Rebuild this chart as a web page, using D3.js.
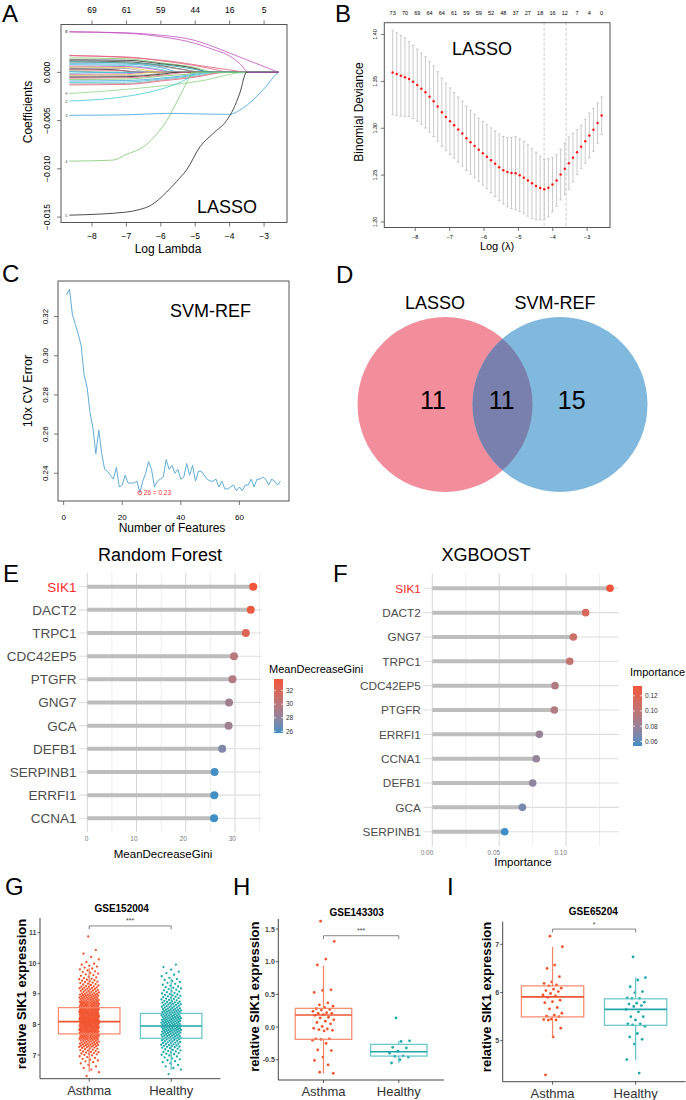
<!DOCTYPE html>
<html>
<head>
<meta charset="utf-8">
<script src="https://cdn.jsdelivr.net/npm/d3@7/dist/d3.min.js"></script>
<style>
html,body{margin:0;padding:0;background:#fff;}
svg{display:block;}
</style>
</head>
<body>
<svg id="fig" width="686" height="1100"></svg>
<script>
// ======================= DATA =======================
// ---- A: LASSO coefficient paths ([log lambda, coefficient]) ----
const lassoLambdaRange = [-8.657, -2.577];
const lassoTicks = [-8, -7, -6, -5, -4, -3];
const lassoTopLabels = ["69", "61", "59", "44", "16", "5"];
const coefTicks = [0, -0.005, -0.010, -0.015];
const coefTickLabels = ["0.000", "\u22120.005", "\u22120.010", "\u22120.015"];
const coefPaths = [
  [[-8.657,0.00172],[-7,0.0016],[-6,0.0012],[-5,0.0007],[-4.3,0.0002],[-4,0]],
  [[-8.657,0.0015],[-7,0.0014],[-6,0.001],[-5,0.0005],[-4.4,0]],
  [[-8.657,0.0013],[-7,0.00125],[-6,0.0009],[-5,0.0004],[-4.6,0]],
  [[-8.657,0.00118],[-7,0.0011],[-6,0.0007],[-5.2,0.0002],[-4.9,0]],
  [[-8.657,0.00105],[-7,0.001],[-6,0.0006],[-5,0.0001],[-4.8,0]],
  [[-8.657,0.0009],[-7,0.00085],[-6,0.0005],[-5.4,0]],
  [[-8.657,0.0008],[-7,0.0007],[-6,0.0003],[-5.6,0]],
  [[-8.657,0.00065],[-7,0.0006],[-6,0.0002],[-5.7,0]],
  [[-8.657,0.00055],[-7,0.0005],[-6.2,0.0001],[-5.9,0]],
  [[-8.657,0.00045],[-7,0.0004],[-6.3,0]],
  [[-8.657,0.00035],[-7.5,0.0003],[-6.5,0]],
  [[-8.657,0.00025],[-7.2,0.0002],[-6.6,0]],
  [[-8.657,0.00015],[-7,0]],
  [[-8.657,0.00008],[-7.5,0]],
  [[-8.657,-0.0001],[-7.3,0]],
  [[-8.657,-0.0002],[-7,-0.00015],[-6.5,0]],
  [[-8.657,-0.0003],[-7,-0.00025],[-6.2,0]],
  [[-8.657,-0.0004],[-7,-0.00035],[-6,-0.0001],[-5.8,0]],
  [[-8.657,-0.0005],[-7,-0.00045],[-6,-0.0002],[-5.5,0]],
  [[-8.657,-0.0006],[-7,-0.00055],[-6,-0.0003],[-5.2,0]],
  [[-8.657,-0.00075],[-7,-0.0007],[-6,-0.0004],[-5,-0.0001],[-4.8,0]],
  [[-8.657,-0.0009],[-7,-0.00085],[-6,-0.0006],[-5,-0.0002],[-4.6,0]],
  [[-8.657,-0.00105],[-7,-0.001],[-6,-0.0007],[-5,-0.0003],[-4.4,0]],
  [[-8.657,-0.0012],[-7,-0.00115],[-6,-0.0008],[-5,-0.0004],[-4.2,0]],
  [[-8.657,-0.0013],[-7,-0.00125],[-6,-0.0009],[-5,-0.0005],[-4.1,0]],
  [[-8.657,0.0011],[-6,0.0008],[-5,0.0003],[-4.5,0]],
  [[-8.657,-0.0022],[-6.8,-0.0017],[-4.86,-0.0009],[-3.5,0]],
  [[-8.657,0.00176],[-5.8,0.0012],[-4.86,0.0007],[-3.9,0.0002],[-3.5,0]],
  [[-8.657,-0.00297],[-7.47,-0.0027],[-6.6,-0.00225],[-5.83,-0.00156],[-5.25,-0.0007],[-4.95,0]],
  [[-8.657,-0.00445],[-7,-0.0044],[-5.8,-0.00425],[-5,-0.0043],[-4,-0.00435],[-3.7,-0.0039],[-3.3,-0.0028],[-2.93,-0.0014],[-2.65,-0.0002],[-2.577,0]],
  [[-8.657,-0.0092],[-7.4,-0.0091],[-7.0,-0.0085],[-6.5,-0.0077],[-6.12,-0.0064],[-5.83,-0.005],[-5.54,-0.0031],[-5.34,-0.0017],[-5.2,-0.0007],[-5.1,0]],
  [[-8.657,-0.0148],[-7,-0.01448],[-6.6,-0.0142],[-6.3,-0.0138],[-5.83,-0.0124],[-5.54,-0.0113],[-5.25,-0.0101],[-4.86,-0.0077],[-4.47,-0.0063],[-4.09,-0.005],[-3.89,-0.0038],[-3.7,-0.0021],[-3.51,0]],
  [[-8.657,0.0042],[-7,0.0041],[-6,0.00385],[-5,0.0033],[-4.5,0.0027],[-4,0.002],[-3.5,0.0013],[-3,0.0006],[-2.577,0]],
  [[-8.657,0.0042],[-7,0.00405],[-6,0.0037],[-5,0.003],[-4.5,0.0024],[-4,0.0017],[-3.7,0.0009],[-3.45,0]]
];
const coefColors = [
  "#e0607a","#7cc96e","#222222","#444444","#9e9e9e","#3d9fe0","#3fc9d6","#c24fc0","#e8c23a",
  "#9e9e9e","#222222","#e0607a","#7cc96e","#3d9fe0","#3fc9d6","#c24fc0","#e8c23a","#9e9e9e",
  "#222222","#e0607a","#7cc96e","#3d9fe0","#3fc9d6","#9e9e9e","#e0607a","#2fa89a",
  "#8fd384","#e0607a","#3fc9d6","#3d9fe0","#7cc96e","#222222","#c24fc0","#c24fc0"
];

// ---- B: cross-validated binomial deviance ----
const cvLambdaRange = [-8.657, -2.577];
const cvMean = [1.3595,1.3578,1.356,1.3543,1.3525,1.3495,1.346,1.3422,1.3383,1.3335,1.3287,1.3232,1.317,1.312,1.3075,1.3031,1.2986,1.2943,1.2892,1.2851,1.2811,1.2771,1.2733,1.2696,1.2659,1.2622,1.2584,1.2552,1.2532,1.2522,1.252,1.2498,1.2473,1.2443,1.2412,1.2385,1.2362,1.2348,1.2365,1.24,1.2442,1.2506,1.2568,1.2627,1.2686,1.2745,1.2802,1.2861,1.2923,1.2983,1.3055,1.3135];
const cvSE = [0.045,0.044,0.043,0.042,0.040,0.039,0.0385,0.038,0.038,0.0378,0.0375,0.037,0.0365,0.036,0.0355,0.035,0.0348,0.0345,0.0343,0.034,0.0338,0.0336,0.034,0.0342,0.0345,0.035,0.0355,0.036,0.037,0.038,0.039,0.0388,0.0385,0.038,0.0375,0.036,0.034,0.032,0.031,0.029,0.0275,0.027,0.0275,0.028,0.026,0.024,0.023,0.0235,0.024,0.023,0.0215,0.020];
const cvTopLabels = ["73","70","69","64","64","61","59","59","52","48","37","27","18","16","12","7","4","0"];
const cvVLines = [-4.25, -3.61];
const cvYTicks = [1.20, 1.25, 1.30, 1.35, 1.40];

// ---- C: SVM-RFE 10x CV error ----
const svmErr = [0.331,0.334,0.321,0.316,0.311,0.305,0.290,0.284,0.271,0.263,
  0.250,0.262,0.250,0.242,0.241,0.239,0.237,0.243,0.233,0.234,
  0.239,0.235,0.235,0.235,0.236,0.230,0.236,0.240,0.246,0.242,
  0.233,0.236,0.237,0.238,0.247,0.242,0.244,0.240,0.242,0.237,
  0.238,0.245,0.239,0.244,0.236,0.241,0.241,0.239,0.237,0.236,
  0.236,0.237,0.233,0.236,0.232,0.232,0.233,0.234,0.231,0.233,
  0.231,0.234,0.234,0.237,0.233,0.237,0.237,0.238,0.237,0.234,
  0.237,0.236,0.234,0.236];
const svmXTicks = [0, 20, 40, 60];
const svmYTicks = [0.24, 0.26, 0.28, 0.30, 0.32];

// ---- D: Venn ----
const vennSets = ["LASSO", "SVM-REF"];
const vennCounts = [11, 11, 15];

// ---- E: Random forest ----
const rfGenes = ["SIK1","DACT2","TRPC1","CDC42EP5","PTGFR","GNG7","GCA","DEFB1","SERPINB1","ERRFI1","CCNA1"];
const rfValues = [33.7,33.2,32.2,29.8,29.5,28.8,28.7,27.4,25.85,25.8,25.75];
const rfMajor = [0,10,20,30], rfMinor = [5,15,25,35], rfLegendTicks = [26,28,30,32];

// ---- F: XGBoost ----
const xgbGenes = ["SIK1","DACT2","GNG7","TRPC1","CDC42EP5","PTGFR","ERRFI1","CCNA1","DEFB1","GCA","SERPINB1"];
const xgbValues = [0.1328,0.1146,0.1054,0.1027,0.0917,0.0912,0.0800,0.0777,0.0750,0.0673,0.0541];
const xgbMajor = [0,0.05,0.10], xgbMinor = [0.025,0.075,0.125], xgbLegendTicks = [0.06,0.08,0.10,0.12];

// ---- G/H/I: SIK1 expression ----
const groupNames = ["Asthma", "Healthy"];
// GSE152004: dense clouds given as [bin centre, count] (bin width 0.25)
const gAsthmaBins = [[6.375,2],[6.625,5],[6.875,9],[7.125,18],[7.375,30],[7.625,44],[7.875,58],[8.125,64],[8.375,60],[8.625,48],[8.875,36],[9.125,24],[9.375,16],[9.625,10],[9.875,8],[10.125,3],[10.375,2],[10.875,1]];
const gHealthyBins = [[6.375,1],[6.625,5],[6.875,8],[7.125,14],[7.375,22],[7.625,30],[7.875,36],[8.125,36],[8.375,33],[8.625,24],[8.875,17],[9.125,12],[9.375,8],[9.625,5],[9.875,3]];
const gStats = [[6.45,7.69,8.09,8.55,9.84],[6.51,7.545,7.95,8.36,9.51]]; // whiskerLo,Q1,median,Q3,whiskerHi
const hAsthma = [1.62,1.31,1.04,0.95,0.57,0.56,0.53,0.37,0.34,0.32,0.30,0.28,0.27,0.26,0.24,0.22,0.21,0.21,0.19,0.18,0.15,0.14,0.11,0.09,0.07,0.05,0.01,-0.02,-0.03,-0.04,-0.05,-0.06,-0.18,-0.18,-0.19,-0.20,-0.25,-0.35,-0.36,-0.46,-0.51,-0.58,-0.69,-0.71];
const hHealthy = [0.14,-0.21,-0.22,-0.31,-0.32,-0.37,-0.40,-0.44,-0.45,-0.46,-0.50,-0.55];
const hStats = [[-0.71,-0.188,0.184,0.286,0.94],[-0.55,-0.444,-0.378,-0.265,-0.21]];
const iAsthma = [7.17,6.95,6.57,6.50,6.33,6.22,6.19,6.16,6.14,6.09,6.07,6.04,6.02,5.98,5.95,5.93,5.90,5.84,5.81,5.79,5.69,5.66,5.57,5.53,5.51,5.50,5.45,5.44,5.43,5.43,5.26,5.08,4.29];
const iHealthy = [6.74,6.31,6.26,6.12,6.02,6.00,5.89,5.88,5.88,5.80,5.78,5.76,5.73,5.71,5.65,5.60,5.50,5.50,5.43,5.35,5.35,5.33,5.30,5.15,5.08,5.03,4.93,4.61,4.33];
const iStats = [[5.08,5.495,5.91,6.138,6.95],[4.6,5.32,5.65,5.87,6.31]];
const gTicks = [7,8,9,10,11], hTicks = [-0.5,0,0.5,1.0,1.5], iTicks = [5,6,7];
const sigLabels = ["***", "***", "*"];

// ======================= DRAWING =======================
const FONT = "'Liberation Sans', Arial, Helvetica, sans-serif";
const svg = d3.select("#fig");
svg.append("rect").attr("width", 686).attr("height", 1100).attr("fill", "#fff");

function T(x, y, s, size, o) {
  o = o || {};
  const t = svg.append("text").attr("x", x).attr("y", y)
    .attr("font-family", FONT).attr("font-size", size)
    .attr("fill", o.fill || "#000").text(s);
  if (o.anchor) t.attr("text-anchor", o.anchor);
  if (o.weight) t.attr("font-weight", o.weight);
  if (o.rot !== undefined) t.attr("transform", `rotate(${o.rot},${x},${y})`);
  return t;
}
function L(x1, y1, x2, y2, stroke, w, dash) {
  const l = svg.append("line").attr("x1", x1).attr("y1", y1).attr("x2", x2).attr("y2", y2)
    .attr("stroke", stroke).attr("stroke-width", w || 1);
  if (dash) l.attr("stroke-dasharray", dash);
  return l;
}
const fmt = (v, d) => (v < 0 ? "\u2212" : "") + Math.abs(v).toFixed(d);

// panel letters
[["A",2,22],["B",335,22],["C",2,282],["D",336,283],["E",3,582],["F",333,582],["G",5,895],["H",233,895],["I",447,895]]
  .forEach(d => T(d[1], d[2], d[0], 24));

// ---------- A ----------
(function () {
  const box = { l: 61, r: 287, t: 24.5, b: 222.5 };
  const lp = 0.04 * (lassoLambdaRange[1] - lassoLambdaRange[0]);
  const x = d3.scaleLinear().domain([lassoLambdaRange[0] - lp, lassoLambdaRange[1] + lp]).range([box.l, box.r]);
  const ce = d3.extent(coefPaths.flat().map(d => d[1]));
  const cp = 0.04 * (ce[1] - ce[0]);
  const y = d3.scaleLinear().domain([ce[0] - cp, ce[1] + cp]).range([box.b, box.t]);
  const line = d3.line().x(d => x(d[0])).y(d => y(d[1])).curve(d3.curveMonotoneX);
  const g = svg.append("g");
  coefPaths.forEach((p, i) => {
    const pts = p[p.length - 1][0] < lassoLambdaRange[1] ? p.concat([[lassoLambdaRange[1], 0]]) : p;
    g.append("path").attr("d", line(pts)).attr("fill", "none")
      .attr("stroke", coefColors[i]).attr("stroke-width", 0.8);
  });
  coefPaths.forEach((p, i) => {
    if (Math.abs(p[0][1]) > 0.0018) T(x(p[0][0]) - 4, y(p[0][1]) + 1.5, String(i % 9 + 1), 4, { fill: "#444" });
  });
  svg.append("rect").attr("x", box.l).attr("y", box.t).attr("width", box.r - box.l).attr("height", box.b - box.t)
    .attr("fill", "none").attr("stroke", "#555").attr("stroke-width", 1);
  lassoTicks.forEach((v, i) => {
    L(x(v), box.b, x(v), box.b + 4, "#555", 0.8);
    T(x(v), box.b + 16, fmt(v, 0), 8.5, { anchor: "middle" });
    L(x(v), box.t, x(v), box.t - 4, "#555", 0.8);
    T(x(v), box.t - 11.5, lassoTopLabels[i], 8.5, { anchor: "middle" });
  });
  coefTicks.forEach((v, i) => {
    L(box.l - 4, y(v), box.l, y(v), "#555", 0.8);
    T(box.l - 11, y(v), coefTickLabels[i], 8.5, { anchor: "middle", rot: -90 });
  });
  T(168, 253, "Log Lambda", 12, { anchor: "middle" });
  T(31.5, 112, "Coefficients", 12, { anchor: "middle", rot: -90 });
  T(197, 213, "LASSO", 18);
})();

// ---------- B ----------
(function () {
  const box = { l: 384.3, r: 610, t: 22.7, b: 227.5 };
  const n = cvMean.length;
  const lp = 0.04 * (cvLambdaRange[1] - cvLambdaRange[0]);
  const x = d3.scaleLinear().domain([cvLambdaRange[0] - lp, cvLambdaRange[1] + lp]).range([box.l, box.r]);
  const idx = d3.scaleLinear().domain([0, n - 1]).range(cvLambdaRange);
  const lo = d3.min(cvMean.map((m, i) => m - cvSE[i])), hi = d3.max(cvMean.map((m, i) => m + cvSE[i]));
  const yp = 0.04 * (hi - lo);
  const y = d3.scaleLinear().domain([lo - yp, hi + yp]).range([box.b, box.t]);
  cvVLines.forEach(v => L(x(v), box.t, x(v), box.b, "#bdbdbd", 0.8, "3,2"));
  cvMean.forEach((m, i) => {
    const cx = x(idx(i));
    L(cx, y(m - cvSE[i]), cx, y(m + cvSE[i]), "#c4c4c4", 0.9);
    L(cx - 1.3, y(m - cvSE[i]), cx + 1.3, y(m - cvSE[i]), "#c4c4c4", 0.9);
    L(cx - 1.3, y(m + cvSE[i]), cx + 1.3, y(m + cvSE[i]), "#c4c4c4", 0.9);
  });
  cvMean.forEach((m, i) => {
    svg.append("circle").attr("cx", x(idx(i))).attr("cy", y(m)).attr("r", 1.25).attr("fill", "#ff1a1a");
  });
  svg.append("rect").attr("x", box.l).attr("y", box.t).attr("width", box.r - box.l).attr("height", box.b - box.t)
    .attr("fill", "none").attr("stroke", "#555").attr("stroke-width", 1);
  lassoTicks.forEach(v => {
    L(x(v), box.b, x(v), box.b + 3.5, "#555", 0.8);
    T(x(v), box.b + 11, fmt(v, 0), 5.5, { anchor: "middle" });
  });
  cvYTicks.forEach(v => {
    L(box.l - 3.5, y(v), box.l, y(v), "#555", 0.8);
    T(box.l - 7.5, y(v), v.toFixed(2), 5.5, { anchor: "middle", rot: -90 });
  });
  cvTopLabels.forEach((s, k) => T(x(idx(k * 3)), 15, s, 5.5, { anchor: "middle" }));
  T(497, 250, "Log (\u03bb)", 11, { anchor: "middle" });
  T(363, 112, "Binomial Deviance", 12, { anchor: "middle", rot: -90 });
  T(452, 55, "LASSO", 18);
})();

// ---------- C ----------
(function () {
  const box = { l: 58, r: 289, t: 281, b: 501 };
  const n = svmErr.length;
  const xp = 0.04 * (n - 1);
  const x = d3.scaleLinear().domain([1 - xp, n + xp]).range([box.l, box.r]);
  const e = d3.extent(svmErr), yp = 0.04 * (e[1] - e[0]);
  const y = d3.scaleLinear().domain([e[0] - yp, e[1] + yp]).range([box.b, box.t]);
  svg.append("path").attr("d", d3.line().x((d, i) => x(i + 1)).y(d => y(d))(svmErr))
    .attr("fill", "none").attr("stroke", "#62acd8").attr("stroke-width", 1);
  const mi = d3.minIndex(svmErr);
  svg.append("circle").attr("cx", x(mi + 1)).attr("cy", y(svmErr[mi])).attr("r", 2)
    .attr("fill", "none").attr("stroke", "#ff3030").attr("stroke-width", 0.8);
  T(x(mi + 1) + 4, y(svmErr[mi]) + 2.3, `${mi + 1} = ${svmErr[mi].toFixed(2)}`, 6.5, { fill: "#ff3030" });
  svg.append("rect").attr("x", box.l).attr("y", box.t).attr("width", box.r - box.l).attr("height", box.b - box.t)
    .attr("fill", "none").attr("stroke", "#555").attr("stroke-width", 1);
  svmXTicks.forEach(v => {
    L(x(v), box.b, x(v), box.b + 4, "#555", 0.8);
    T(x(v), box.b + 19, String(v), 8, { anchor: "middle" });
  });
  svmYTicks.forEach(v => {
    L(box.l - 4, y(v), box.l, y(v), "#555", 0.8);
    T(box.l - 9.5, y(v), v.toFixed(2), 8, { anchor: "middle", rot: -90 });
  });
  T(172, 532, "Number of Features", 12, { anchor: "middle" });
  T(31.5, 391, "10x CV Error", 12.5, { anchor: "middle", rot: -90 });
  T(170, 317, "SVM-REF", 18);
})();

// ---------- D ----------
(function () {
  const cx = d3.scaleOrdinal().domain(vennSets).range([445, 560]);
  const cy = 404.5, r = 87.5;
  svg.append("circle").attr("cx", cx(vennSets[0])).attr("cy", cy).attr("r", r).attr("fill", "#f28d9c");
  svg.append("circle").attr("cx", cx(vennSets[1])).attr("cy", cy).attr("r", r).attr("fill", "#80b8de");
  const defs = svg.append("defs");
  defs.append("clipPath").attr("id", "vclip").append("circle")
    .attr("cx", cx(vennSets[0])).attr("cy", cy).attr("r", r);
  svg.append("circle").attr("cx", cx(vennSets[1])).attr("cy", cy).attr("r", r)
    .attr("fill", "#7a80ae").attr("clip-path", "url(#vclip)");
  T(435, 309, vennSets[0], 18, { anchor: "middle" });
  T(555, 309, vennSets[1], 18, { anchor: "middle" });
  [433, 501.7, 571.7].forEach((px, i) => T(px, 408.5, String(vennCounts[i]), 25, { anchor: "middle" }));
})();

// ---------- E & F ----------
function lollipop(c) {
  const max = d3.max(c.values);
  const x = d3.scaleLinear().domain([-0.05 * max, 1.05 * max]).range([c.l, c.r]);
  const y = d3.scalePoint().domain(c.genes).range([c.t, c.b]).padding(0.6);
  const ce = d3.extent(c.values);
  const col = d3.scaleLinear().domain(ce).range(["#3f8fc5", "#f2543a"]).interpolate(d3.interpolateLab);
  c.minor.forEach(v => L(x(v), c.t, x(v), c.b, "#ececec", 0.9));
  c.major.forEach(v => L(x(v), c.t, x(v), c.b, "#d6d6d6", 1));
  c.genes.forEach(gn => L(c.l, y(gn), c.r, y(gn), "#dedede", 1.1));
  c.genes.forEach((gn, i) => {
    L(x(0), y(gn), x(c.values[i]), y(gn), "#bdbdbd", 4);
  });
  c.genes.forEach((gn, i) => {
    svg.append("circle").attr("cx", x(c.values[i])).attr("cy", y(gn)).attr("r", c.pr).attr("fill", col(c.values[i]));
    T(c.l - 2.5, y(gn) + c.fs * 0.36, gn, c.fs, { anchor: "end", fill: gn === "SIK1" ? "#ff2a2a" : "#4d4d4d" });
  });
  c.major.forEach(v => T(x(v) + 1, c.b + c.tickDy, c.tickFmt(v), 6.5, { anchor: "end", fill: "#777" }));
  T(c.xTitleX, c.xTitleY, c.xTitle, 11.5, { anchor: "middle" });
  T(c.titleX, 560.7, c.title, 18, { anchor: "middle" });
  const lg = c.legend;
  const gid = "grad" + c.title.replace(/\W/g, "");
  const grad = svg.append("defs").append("linearGradient").attr("id", gid)
    .attr("x1", 0).attr("y1", 1).attr("x2", 0).attr("y2", 0);
  d3.range(0, 1.0001, 0.1).forEach(f => grad.append("stop").attr("offset", f)
    .attr("stop-color", col(ce[0] + f * (ce[1] - ce[0]))));
  T(lg.titleX, lg.titleY, c.legendTitle, 11);
  svg.append("rect").attr("x", lg.x).attr("y", lg.t).attr("width", 9).attr("height", lg.b - lg.t).attr("fill", `url(#${gid})`);
  const ly = d3.scaleLinear().domain(ce).range([lg.b, lg.t]);
  c.legendTicks.forEach(v => {
    L(lg.x, ly(v), lg.x + 1.8, ly(v), "#fff", 0.8);
    L(lg.x + 7.2, ly(v), lg.x + 9, ly(v), "#fff", 0.8);
    T(lg.x + 12, ly(v) + 2.3, c.legendFmt(v), 6.5, { fill: "#333" });
  });
}
lollipop({ genes: rfGenes, values: rfValues, l: 79, r: 261.5, t: 572.8, b: 832.2, major: rfMajor, minor: rfMinor,
  tickFmt: v => String(v), tickDy: 8.5, fs: 13.5, pr: 4, title: "Random Forest", titleX: 160,
  xTitle: "MeanDecreaseGini", xTitleX: 163, xTitleY: 858, legendTitle: "MeanDecreaseGini",
  legend: { titleX: 269, titleY: 673, x: 274, t: 679, b: 733 }, legendTicks: rfLegendTicks, legendFmt: v => String(v) });
lollipop({ genes: xgbGenes, values: xgbValues, l: 423.4, r: 618.9, t: 573.7, b: 846.3, major: xgbMajor, minor: xgbMinor,
  tickFmt: v => v.toFixed(2), tickDy: 8.3, fs: 11.8, pr: 3.8, title: "XGBOOST", titleX: 486,
  xTitle: "Importance", xTitleX: 523, xTitleY: 866, legendTitle: "Importance",
  legend: { titleX: 630, titleY: 676, x: 633, t: 686, b: 746 }, legendTicks: xgbLegendTicks, legendFmt: v => v.toFixed(2) });

// ---------- G, H, I ----------
function binsToValues(bins, w) {
  const out = [];
  bins.forEach(([c, n]) => { for (let k = 0; k < n; k++) out.push(c + ((k + 0.5) / n - 0.5) * w); });
  return out;
}
const ptColors = ["#f2542d", "#1fa9ab"];
const boxColors = ["#f58466", "#5fc3c7"];
const medColors = ["#ee5533", "#22a5a9"];
function boxPanel(c) {
  const y = d3.scaleLinear().domain(c.domain).range([c.b, c.t]);
  const x = d3.scalePoint().domain(groupNames).range([c.l, c.r]).padding(0.6);
  const bw = 0.75 * x.step();
  c.points.forEach((arr, gi) => {
    arr.forEach((v, i) => {
      const j = (((i * 0.6180339887 + 0.37) % 1) - 0.5) * 2 * c.jit;
      svg.append("circle").attr("cx", x(groupNames[gi]) + j).attr("cy", y(v)).attr("r", c.pr).attr("fill", ptColors[gi]);
    });
  });
  c.stats.forEach((s, gi) => {
    const cx = x(groupNames[gi]);
    L(cx, y(s[0]), cx, y(s[1]), boxColors[gi], 1.2);
    L(cx, y(s[3]), cx, y(s[4]), boxColors[gi], 1.2);
    svg.append("rect").attr("x", cx - bw / 2).attr("y", y(s[3])).attr("width", bw).attr("height", y(s[1]) - y(s[3]))
      .attr("fill", "none").attr("stroke", boxColors[gi]).attr("stroke-width", 1.3).attr("stroke-opacity", 0.9);
    L(cx - bw / 2, y(s[2]), cx + bw / 2, y(s[2]), medColors[gi], 1.6);
  });
  L(c.l, c.t, c.l, c.b, "#333", 0.9);
  L(c.l, c.b, c.r, c.b, "#333", 0.9);
  c.ticks.forEach(v => {
    L(c.l - 2.5, y(v), c.l, y(v), "#333", 0.8);
    T(c.l - 3.5, y(v) + 2.5, c.tickFmt(v), 7, { anchor: "end", weight: "bold", fill: "#444" });
  });
  groupNames.forEach(gn => {
    L(x(gn), c.b, x(gn), c.b + 3, "#333", 0.8);
    T(x(gn), c.b + 16, gn, 13, { anchor: "middle", fill: "#333" });
  });
  const by = y(c.sigY);
  L(x(groupNames[0]), by, x(groupNames[1]), by, "#666", 0.8);
  L(x(groupNames[0]), by, x(groupNames[0]), by + 3.3, "#666", 0.8);
  L(x(groupNames[1]), by, x(groupNames[1]), by + 3.3, "#666", 0.8);
  T((x(groupNames[0]) + x(groupNames[1])) / 2, by - 2.5, c.sig, 7, { anchor: "middle", fill: "#444" });
  T(c.titleX, c.titleY, c.title, 10, { anchor: "middle", weight: "bold" });
  T(c.ylabX, c.ylabY, "relative SIK1 expression", 13, { anchor: "middle", weight: "bold", rot: -90 });
}
boxPanel({ l: 40, r: 220.4, t: 918, b: 1078.7, domain: [6.225, 11.48], ticks: gTicks, tickFmt: v => String(v),
  points: [binsToValues(gAsthmaBins, 0.25), binsToValues(gHealthyBins, 0.25)], stats: gStats, jit: 10, pr: 1.15,
  sigY: 11.22, sig: sigLabels[0], title: "GSE152004", titleX: 121.7, titleY: 911.7, ylabX: 26, ylabY: 994 });
boxPanel({ l: 278.3, r: 444, t: 919, b: 1080, domain: [-0.81, 1.653], ticks: hTicks, tickFmt: v => v.toFixed(1),
  points: [hAsthma, hHealthy], stats: hStats, jit: 11, pr: 1.4,
  sigY: 1.397, sig: sigLabels[1], title: "GSE143303", titleX: 356.7, titleY: 915.7, ylabX: 259, ylabY: 996.7 });
boxPanel({ l: 502.7, r: 685.5, t: 921.7, b: 1081.7, domain: [4.15, 7.47], ticks: iTicks, tickFmt: v => String(v),
  points: [iAsthma, iHealthy], stats: iStats, jit: 10, pr: 1.4,
  sigY: 7.317, sig: sigLabels[2], title: "GSE65204", titleX: 593.3, titleY: 915, ylabX: 491, ylabY: 997 });
</script>
</body>
</html>
